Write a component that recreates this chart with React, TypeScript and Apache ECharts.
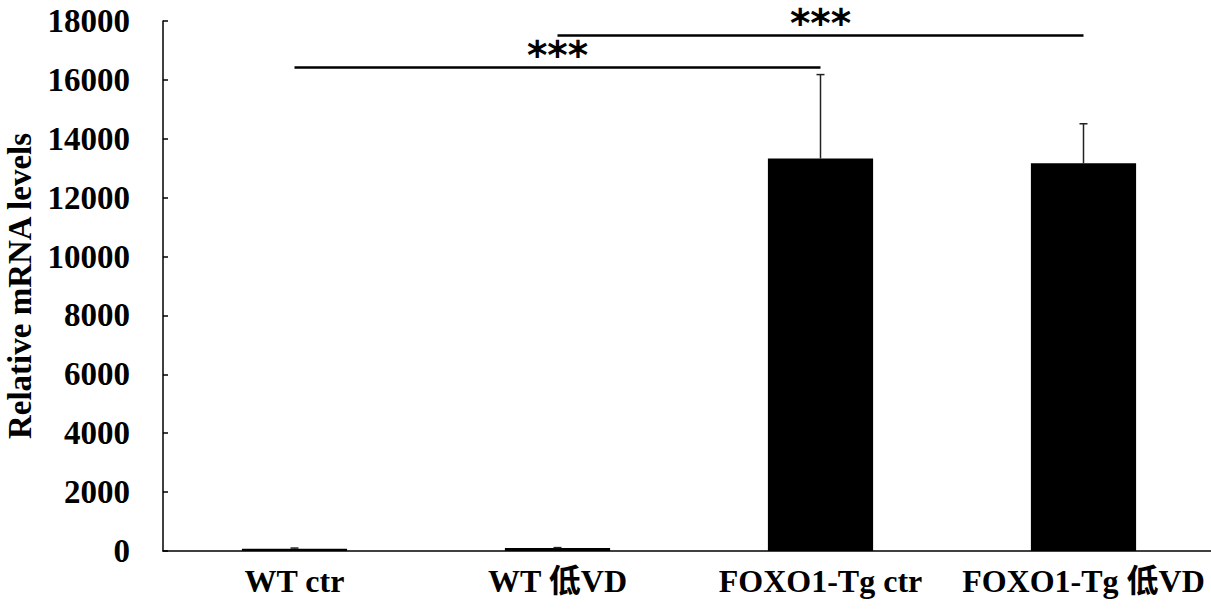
import React, { useEffect, useRef } from "react";
import * as echarts from "echarts";

const categories = ["WT ctr", "WT 低VD", "FOXO1-Tg ctr", "FOXO1-Tg 低VD"];
const values = [80, 100, 13330, 13170];
const errors = [20, 15, 2850, 1340];
const barColors = ["#808080", "#ffffff", "#000000", "#000000"];
const yTicks = { min: 0, max: 18000, interval: 2000 };
const sigBrackets = [
  { from: 0, to: 2, y: 16440, label: "***" },
  { from: 1, to: 3, y: 17520, label: "***" },
];

const FONT = "'Liberation Serif', 'Noto Sans CJK SC', serif";

export default function App() {
  const ref = useRef<HTMLDivElement>(null);
  useEffect(() => {
    if (!ref.current) return;
    const chart = echarts.init(ref.current, undefined, { renderer: "svg" });
    chart.setOption({
      animation: false,
      grid: { left: 163, top: 21, width: 1052, height: 530, containLabel: false, outerBoundsMode: "none" },
      xAxis: {
        type: "category",
        data: categories,
        boundaryGap: true,
        axisLine: { lineStyle: { color: "#000", width: 1.5 } },
        axisTick: { inside: true, length: 8, lineStyle: { color: "#000", width: 1.5 } },
        axisLabel: {
          margin: 14,
          color: "#000",
          fontFamily: FONT,
          fontWeight: "bold",
          fontSize: 32,
          interval: 0,
        },
      },
      yAxis: {
        type: "value",
        min: yTicks.min,
        max: yTicks.max,
        interval: yTicks.interval,
        name: "Relative mRNA levels",
        nameLocation: "middle",
        nameGap: 126,
        nameTextStyle: { color: "#000", fontFamily: FONT, fontWeight: "bold", fontSize: 33 },
        splitLine: { show: false },
        axisLine: { show: true, lineStyle: { color: "#000", width: 1.5 } },
        axisTick: { show: true, inside: true, length: 5, lineStyle: { color: "#000", width: 1.5 } },
        axisLabel: {
          margin: 33,
          color: "#000",
          fontFamily: FONT,
          fontWeight: "bold",
          fontSize: 33,
          formatter: (v: number) => String(v),
        },
      },
      series: [
        {
          type: "bar",
          barWidth: "40%",
          data: values.map((v, i) => ({
            value: v,
            itemStyle: { color: barColors[i], borderColor: "#000", borderWidth: 1.5 },
          })),
          markLine: {
            silent: true,
            symbol: "none",
            lineStyle: { color: "#000", width: 2.5, type: "solid" },
            label: {
              show: true,
              position: "middle",
              distance: -8,
              color: "#000",
              fontFamily: "'DejaVu Sans', sans-serif",
              fontWeight: "bold",
              fontSize: 39,
              formatter: (p: any) => p.name,
            },
            data: sigBrackets.map((b) => [
              { name: b.label, coord: [b.from, b.y] },
              { coord: [b.to, b.y] },
            ]),
          },
        },
        {
          type: "custom",
          data: values.map((v, i) => [i, v, v + errors[i]]),
          renderItem: (params: any, api: any) => {
            const x = api.value(0);
            const base = api.coord([x, api.value(1)]);
            const top = api.coord([x, api.value(2)]);
            const cap = 4;
            return {
              type: "group",
              children: [
                {
                  type: "line",
                  shape: { x1: base[0], y1: base[1], x2: top[0], y2: top[1] },
                  style: { stroke: "#222", lineWidth: 1.5 },
                },
                {
                  type: "line",
                  shape: { x1: top[0] - cap, y1: top[1], x2: top[0] + cap, y2: top[1] },
                  style: { stroke: "#222", lineWidth: 1.5 },
                },
              ],
            };
          },
          z: 3,
        },
      ],
    });
    return () => chart.dispose();
  }, []);
  return <div ref={ref} style={{ width: 1211, height: 615, position: "absolute", left: 0, top: 0 }} />;
}
